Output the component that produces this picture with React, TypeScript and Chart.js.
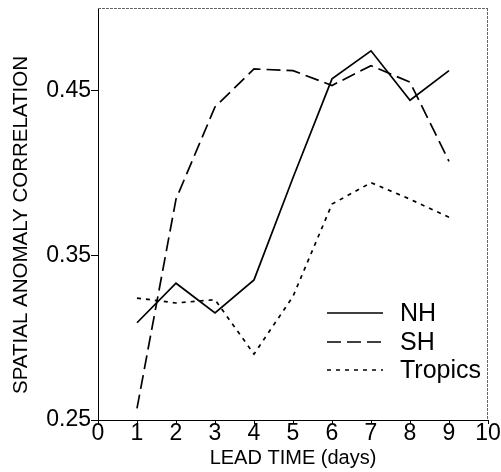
import React, { useEffect, useRef } from "react";
import { Chart, registerables } from "chart.js";

Chart.register(...registerables);

const leadDays = [1, 2, 3, 4, 5, 6, 7, 8, 9];
const nhValues = [0.309, 0.333, 0.315, 0.335, 0.397, 0.457, 0.474, 0.444, 0.462];
const shValues = [0.257, 0.384, 0.44, 0.463, 0.462, 0.453, 0.465, 0.455, 0.407];
const tropicsValues = [0.324, 0.321, 0.323, 0.29, 0.325, 0.381, 0.394, 0.384, 0.373];
const seriesNames = ["NH", "SH", "Tropics"];
const yTickValues = [0.25, 0.35, 0.45];
const xTickValues = [0, 1, 2, 3, 4, 5, 6, 7, 8, 9, 10];
const yTitle = "SPATIAL ANOMALY CORRELATION";

const FONT = "'Liberation Sans', Arial, Helvetica, sans-serif";

const legendPlugin = {
  id: "insideLegend",
  afterDraw(chart: any) {
    const ctx = chart.ctx;
    const area = chart.chartArea;
    ctx.save();
    ctx.strokeStyle = "#666";
    ctx.lineWidth = 1;
    ctx.setLineDash([3, 1]);
    ctx.beginPath();
    ctx.moveTo(area.left, area.top + 0.5);
    ctx.lineTo(area.right, area.top + 0.5);
    ctx.moveTo(area.right - 0.5, area.top);
    ctx.lineTo(area.right - 0.5, area.bottom);
    ctx.stroke();
    ctx.restore();

    // y axis title
    ctx.save();
    ctx.translate(21, 225);
    ctx.rotate(-Math.PI / 2);
    ctx.fillStyle = "#000";
    ctx.font = "20.5px " + FONT;
    ctx.textAlign = "center";
    ctx.textBaseline = "middle";
    ctx.fillText(yTitle, 0, 0);
    ctx.restore();

    const rows = [313, 342, 370];
    const x0 = 327;
    const x1 = 383;
    chart.data.datasets.forEach((ds: any, i: number) => {
      ctx.save();
      ctx.strokeStyle = "#000";
      ctx.lineWidth = 1.7;
      ctx.setLineDash(ds.borderDash || []);
      ctx.beginPath();
      ctx.moveTo(x0, rows[i]);
      ctx.lineTo(x1, rows[i]);
      ctx.stroke();
      ctx.setLineDash([]);
      ctx.fillStyle = "#000";
      ctx.font = "25px " + FONT;
      ctx.textBaseline = "middle";
      ctx.textAlign = "left";
      ctx.fillText(ds.label, 400, rows[i] + 1);
      ctx.restore();
    });
  },
};

export default function App() {
  const ref = useRef<HTMLCanvasElement | null>(null);
  useEffect(() => {
    if (!ref.current) return;
    const mk = (vals: number[]) => leadDays.map((d, i) => ({ x: d, y: vals[i] }));
    const chart = new Chart(ref.current, {
      type: "line",
      data: {
        datasets: [
          { label: seriesNames[0], data: mk(nhValues), borderColor: "#000", borderWidth: 1.7, pointRadius: 0, borderDash: [] },
          { label: seriesNames[1], data: mk(shValues), borderColor: "#000", borderWidth: 1.7, pointRadius: 0, borderDash: [14, 6] },
          { label: seriesNames[2], data: mk(tropicsValues), borderColor: "#000", borderWidth: 1.7, pointRadius: 0, borderDash: [4, 5] },
        ],
      },
      options: {
        responsive: false,
        animation: false,
        layout: { padding: { left: 0, top: 8, right: 13, bottom: 0 } },
        plugins: { legend: { display: false }, tooltip: { enabled: false } },
        scales: {
          x: {
            type: "linear",
            min: 0,
            max: 10,
            afterBuildTicks: (s: any) => {
              s.ticks = xTickValues.map((v) => ({ value: v }));
            },
            afterFit: (s: any) => {
              s.height = 52;
            },
            ticks: {
              color: "#000",
              font: { family: FONT, size: 23 },
              padding: -4,
              maxRotation: 0,
              autoSkip: false,
              callback: (v: any) => String(v),
            },
            grid: { drawOnChartArea: false, tickLength: 4, color: "#000" },
            border: { color: "#000", width: 1 },
            title: {
              display: true,
              text: "LEAD TIME (days)",
              color: "#000",
              font: { family: FONT, size: 20 },
              padding: { top: 0, bottom: 2 },
            },
          },
          y: {
            type: "linear",
            min: 0.25,
            max: 0.5,
            afterBuildTicks: (s: any) => {
              s.ticks = yTickValues.map((v) => ({ value: v }));
            },
            afterFit: (s: any) => {
              s.width = 98;
              s.paddingTop = 0;
              s.paddingBottom = 0;
            },
            ticks: {
              color: "#000",
              font: { family: FONT, size: 23 },
              padding: 0,
              callback: (v: any) => Number(v).toFixed(2),
            },
            grid: { drawOnChartArea: false, tickLength: 7, color: "#000" },
            border: { color: "#000", width: 1 },
            title: { display: false },
          },
        },
      },
      plugins: [legendPlugin],
    } as any);
    return () => chart.destroy();
  }, []);
  return (
    <div style={{ position: "fixed", left: 0, top: 0, width: 501, height: 472, background: "#fff" }}>
      <canvas ref={ref} width={501} height={472} style={{ width: 501, height: 472 }} />
    </div>
  );
}
